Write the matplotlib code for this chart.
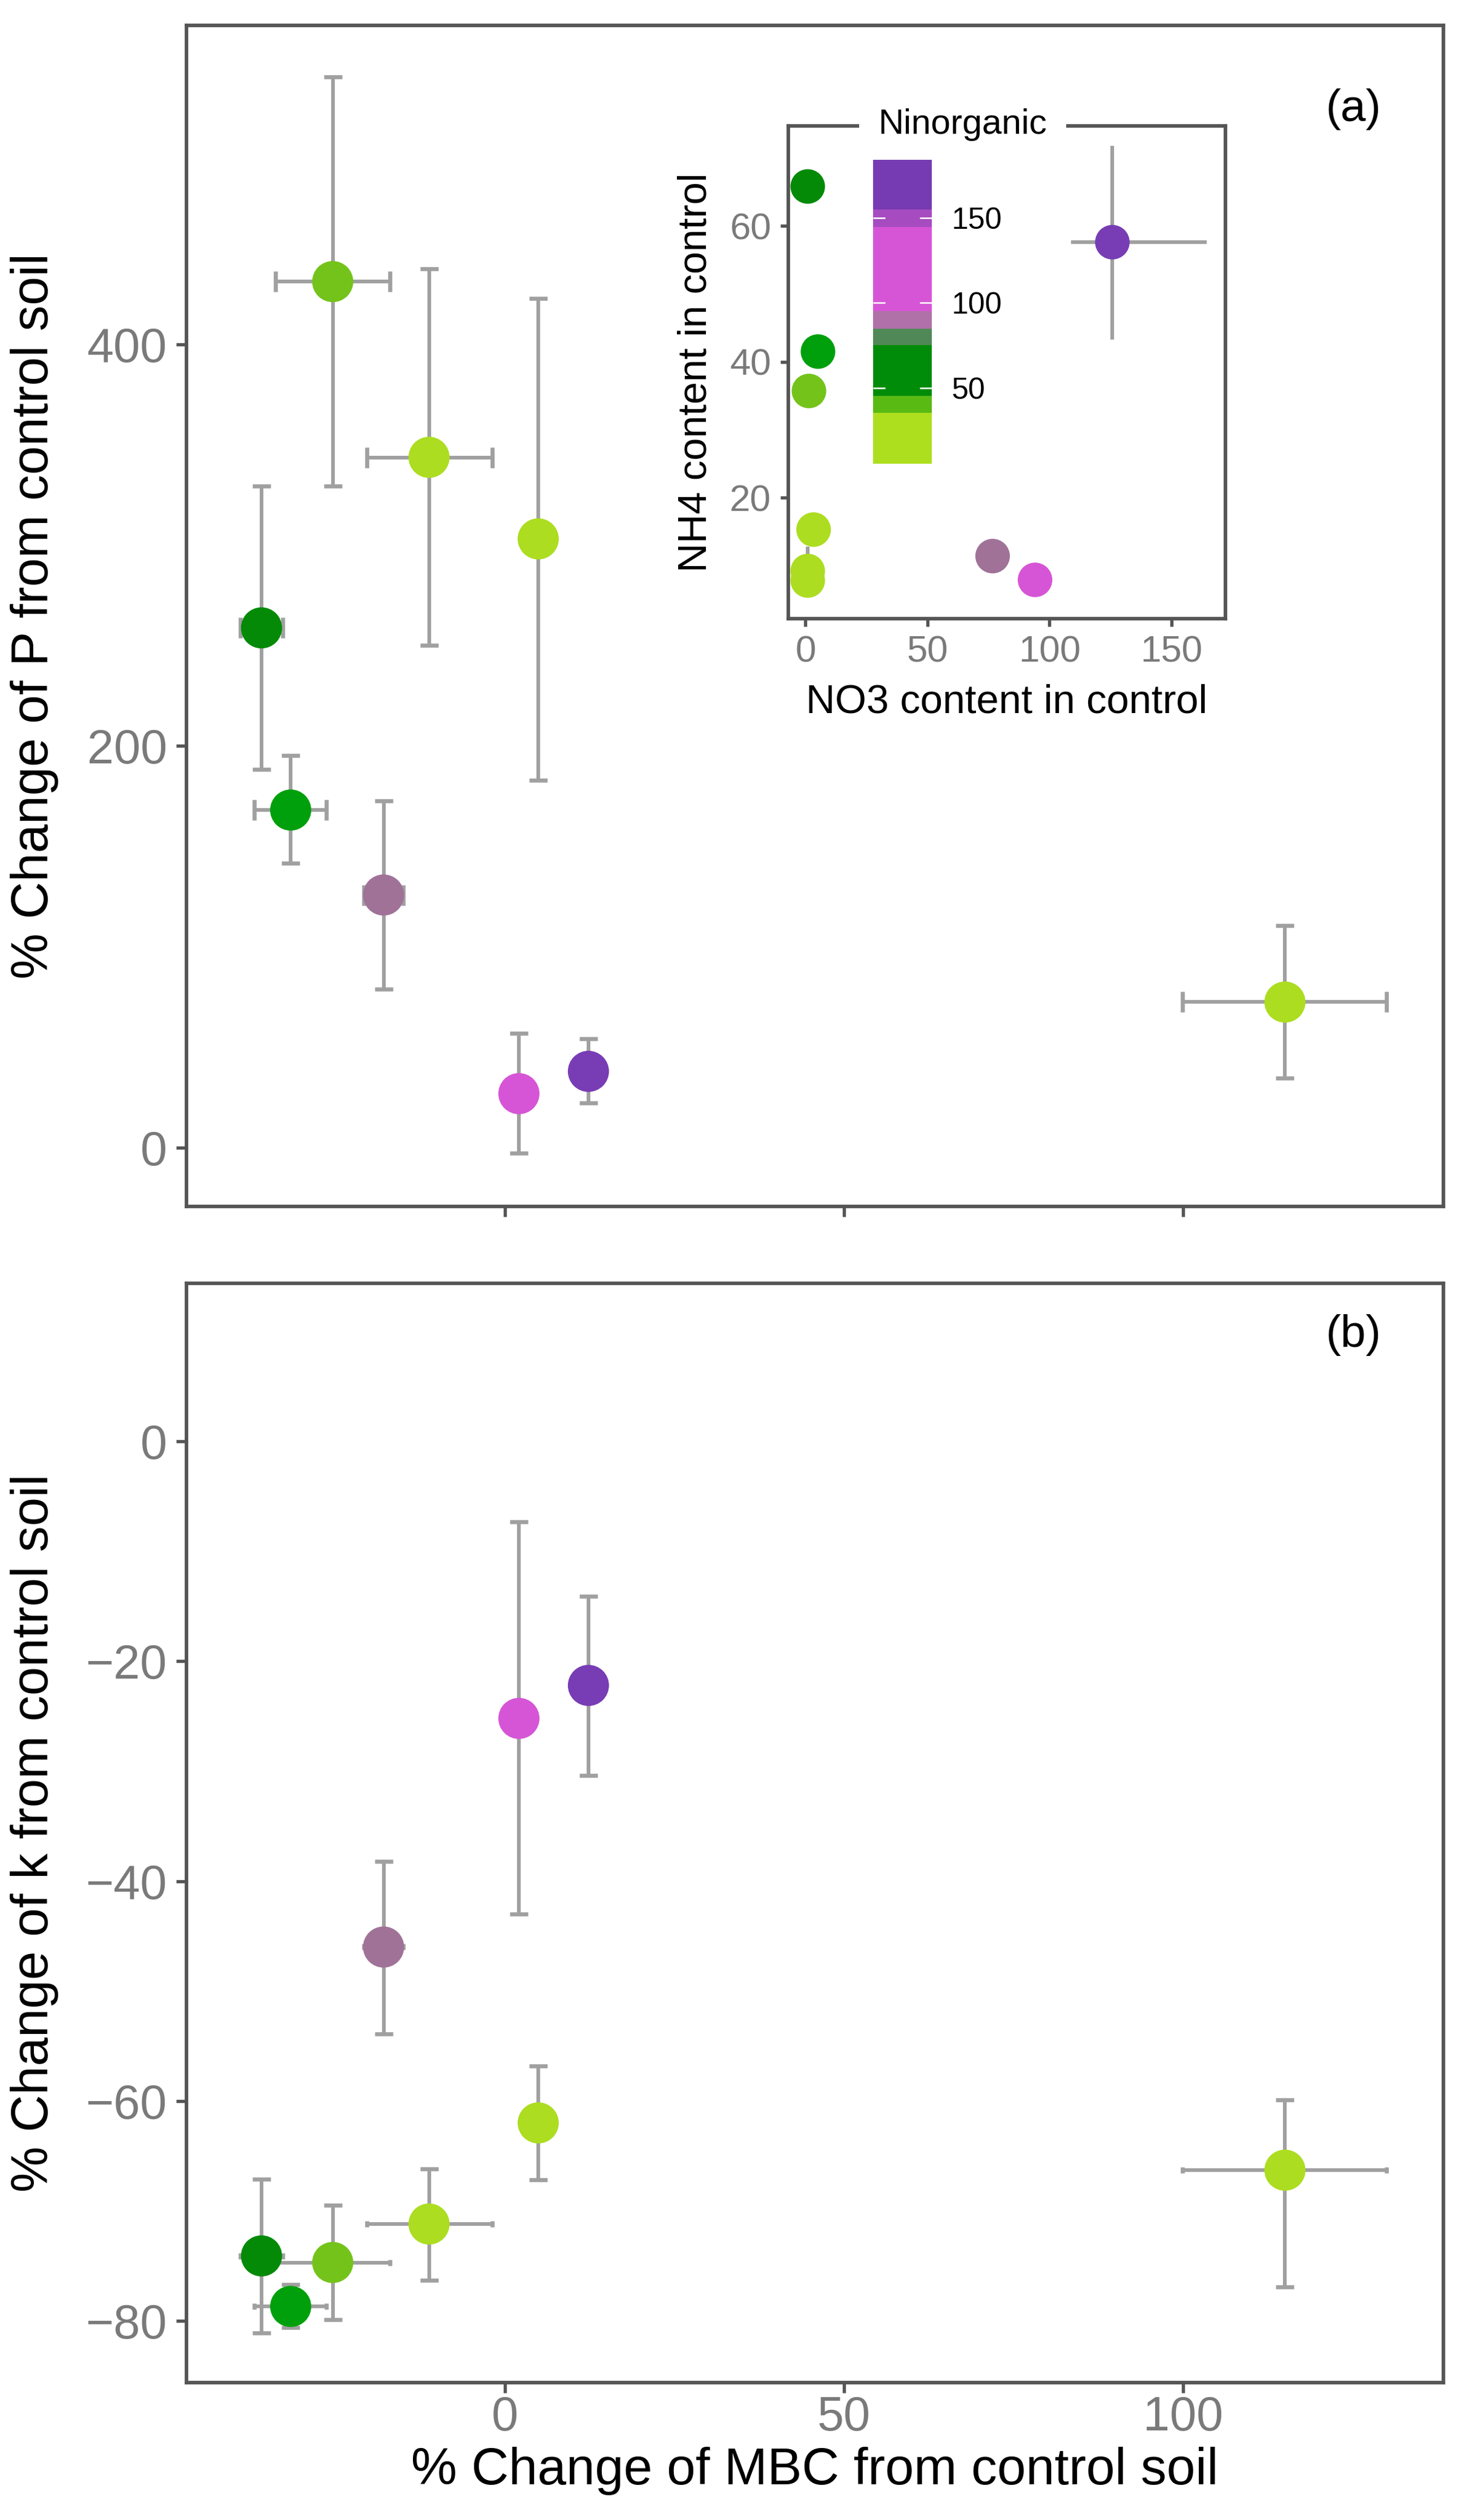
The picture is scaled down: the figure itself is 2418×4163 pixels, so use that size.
import numpy as np
import matplotlib
matplotlib.use("Agg")
import matplotlib.pyplot as plt
from matplotlib.colors import ListedColormap, BoundaryNorm
from matplotlib.cm import ScalarMappable

plt.rcParams['font.family'] = ['Liberation Sans', 'DejaVu Sans']

# one entry per treatment, same order everywhere
point_colors = ['#058a08', '#00a00c', '#74c31a', '#acdd20', '#acdd20',
                '#acdd20', '#a07298', '#d655d6', '#783cb4']

mbc = [-35.9, -31.6, -25.4, -11.2, 4.9, 115.0, -17.9, 2.05, 12.3]
mbc_lo = [-39.0, -37.0, -33.8, -20.4, 4.9, 99.9, -20.8, 2.05, 12.3]
mbc_hi = [-32.8, -26.3, -17.0, -1.9, 4.9, 130.0, -15.0, 2.05, 12.3]

p_change = [258.8, 168.1, 431.2, 343.7, 303.1, 72.5, 125.8, 26.9, 38.0]
p_lo = [188.4, 141.6, 329.5, 250.1, 183.0, 34.6, 79.0, -2.6, 22.2]
p_hi = [329.5, 195.2, 533.2, 437.5, 422.9, 110.5, 172.6, 56.8, 54.1]

k_change = [-74.1, -78.7, -74.7, -71.2, -62.0, -66.3, -46.0, -25.2, -22.2]
k_lo = [-81.1, -80.6, -79.9, -76.3, -67.2, -76.9, -53.9, -43.0, -30.4]
k_hi = [-67.1, -76.7, -69.5, -66.2, -56.8, -59.9, -38.2, -7.3, -14.1]

no3 = [0.9, 5.1, 1.4, 3.3, 0.9, 0.9, 76.7, 94.1, 125.8]
no3_lo = [0.9, 5.1, 1.4, 3.3, 0.9, 0.9, 76.7, 94.1, 108.9]
no3_hi = [0.9, 5.1, 1.4, 3.3, 0.9, 0.9, 76.7, 94.1, 164.6]
nh4 = [65.8, 41.5, 35.7, 15.3, 9.2, 7.8, 11.4, 7.9, 57.6]
nh4_lo = [65.8, 41.5, 35.7, 15.3, 5.6, 7.8, 11.4, 7.9, 43.3]
nh4_hi = [65.8, 41.5, 35.7, 15.3, 12.8, 7.8, 11.4, 7.9, 71.8]

# binned legend bar for Ninorganic
bar_bounds = [5.4, 35.2, 45.2, 75.2, 84.8, 95.0, 144.7, 154.7, 184.7]
bar_colors = ['#addf1f', '#5aba14', '#008c08', '#508858', '#b070a8',
              '#d655d6', '#a64bc0', '#763bb2']
bar_ticks = [50, 100, 150]

ERR = '#a0a0a0'
FRAME = '#555555'
TICKTXT = '#7a7a7a'

fig = plt.figure(figsize=(2418 / 300, 4163 / 300), dpi=300)
ax_a = fig.add_axes([0.1272, 0.52114, 0.8589, 0.46882])
ax_b = fig.add_axes([0.1272, 0.05464, 0.8589, 0.43619])
ax_in = fig.add_axes([0.5384, 0.7545, 0.2987, 0.1955])


def style(ax, size, tlen):
    for s in ax.spines.values():
        s.set_color(FRAME)
        s.set_linewidth(1.4)
    ax.tick_params(colors=FRAME, labelcolor=TICKTXT, labelsize=size,
                   length=tlen, width=1.3, pad=3.5)


def draw(ax, xs, xlo, xhi, ys, ylo, yhi, hcap, vcap, ms):
    for i in range(len(xs)):
        if yhi[i] > ylo[i]:
            ax.errorbar(xs[i], ys[i], yerr=[[ys[i] - ylo[i]], [yhi[i] - ys[i]]],
                        fmt='none', ecolor=ERR, elinewidth=1.45,
                        capsize=vcap, capthick=1.6, zorder=2)
        if xhi[i] > xlo[i]:
            ax.errorbar(xs[i], ys[i], xerr=[[xs[i] - xlo[i]], [xhi[i] - xs[i]]],
                        fmt='none', ecolor=ERR, elinewidth=1.45,
                        capsize=hcap, capthick=1.6, zorder=2)
    ax.scatter(xs, ys, s=ms ** 2, c=point_colors, linewidths=0, zorder=3)


# panel (a)
draw(ax_a, mbc, mbc_lo, mbc_hi, p_change, p_lo, p_hi, 4.0, 3.6, 16.3)
ax_a.set_xlim(-47.0, 138.4)
ax_a.set_ylim(-29.4, 558.8)
ax_a.set_xticks([0, 50, 100])
ax_a.set_yticks([0, 200, 400])
style(ax_a, 19, 4.1)
ax_a.tick_params(axis='x', labelbottom=False)
ax_a.set_ylabel('% Change of P from control soil', fontsize=20.5)
ax_a.yaxis.set_label_coords(-0.1014, 0.5)
fig.text(0.92452, 0.95669, '(a)', fontsize=18, ha='center', va='center')

# panel (b)
draw(ax_b, mbc, mbc_lo, mbc_hi, k_change, k_lo, k_hi, 1.3, 3.6, 16.3)
ax_b.set_xlim(-47.0, 138.4)
ax_b.set_ylim(-85.6, 14.4)
ax_b.set_xticks([0, 50, 100])
ax_b.set_yticks([-80, -60, -40, -20, 0])
ax_b.set_yticklabels(['\u221280', '\u221260', '\u221240', '\u221220', '0'])
style(ax_b, 19, 4.1)
ax_b.tick_params(axis='x', pad=1)
ax_b.set_ylabel('% Change of k from control soil', fontsize=20.5)
ax_b.yaxis.set_label_coords(-0.1014, 0.5)
ax_b.set_xlabel('% Change of MBC from control soil', fontsize=20.5)
ax_b.xaxis.set_label_coords(0.5, -0.0587)
fig.text(0.92452, 0.47033, '(b)', fontsize=18, ha='center', va='center')

# inset: control soil N
draw(ax_in, no3, no3_lo, no3_hi, nh4, nh4_lo, nh4_hi, 0, 0, 13.7)
ax_in.set_xlim(-7.1, 172.2)
ax_in.set_ylim(2.19, 74.7)
ax_in.set_xticks([0, 50, 100, 150])
ax_in.set_yticks([20, 40, 60])
style(ax_in, 14.8, 3.2)
ax_in.set_xlabel('NO3 content in control', fontsize=16)
ax_in.xaxis.set_label_coords(0.5, -0.1315)
ax_in.set_ylabel('NH4 content in control', fontsize=16)
ax_in.yaxis.set_label_coords(-0.1686, 0.5)

cax = fig.add_axes([0.59624, 0.81600, 0.04024, 0.12104])
sm = ScalarMappable(norm=BoundaryNorm(bar_bounds, len(bar_colors)),
                    cmap=ListedColormap(bar_colors))
cb = fig.colorbar(sm, cax=cax, spacing='proportional')
cb.outline.set_visible(False)
cb.set_ticks(bar_ticks)
cb.set_ticklabels([str(t) for t in bar_ticks])
cax.minorticks_off()
cax.tick_params(axis='y', which='both', left=True, right=True, direction='in',
                color='white', length=4.8, width=0.6, labelsize=12,
                labelcolor='black', pad=7.8)
fig.text(0.65744, 0.95056, 'Ninorganic', fontsize=14, ha='center', va='center',
         zorder=5, bbox=dict(facecolor='white', edgecolor='none', pad=7.5))

fig.savefig('out.png', dpi=300, facecolor='white')
